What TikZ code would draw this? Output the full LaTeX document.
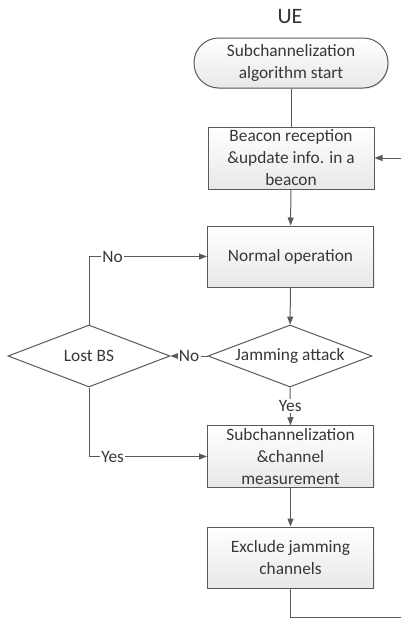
\documentclass[tikz,border=0pt]{standalone}
\usepackage{fontspec}
\setmainfont{Carlito}
\usetikzlibrary{arrows.meta,shapes.geometric,shadows}
\definecolor{edge}{RGB}{90,90,90}
\definecolor{ink}{RGB}{55,55,55}
\definecolor{shade}{RGB}{232,232,232}
\tikzset{
  box/.style={draw=edge,line width=0.75pt,align=center,inner sep=2pt,text=ink,
    font=\fontsize{13}{16.5}\selectfont,top color=white,bottom color=shade,
    drop shadow={opacity=0.15,shadow xshift=0.8pt,shadow yshift=-0.8pt}},
  procbox/.style={box,minimum width=124.5pt,minimum height=46.5pt},
  startbox/.style={box,rounded corners=18.5pt,minimum width=145.5pt,minimum height=37.5pt},
  decbox/.style={diamond,aspect=2.65,draw=edge,line width=0.75pt,fill=white,inner sep=0pt,text=ink,
    font=\fontsize{13}{16.5}\selectfont,minimum width=123pt,minimum height=46.5pt},
  flow/.style={-{Triangle[length=6pt,width=4.5pt]},line width=0.75pt,draw=edge},
  plain/.style={line width=0.75pt,draw=edge},
  lab/.style={font=\fontsize{13}{16.5}\selectfont,text=ink,inner sep=1pt,fill=white},
}
\begin{document}
\begin{tikzpicture}[x=0.75pt,y=-0.75pt]
\useasboundingbox (0,0) rectangle (401,621);
\clip (0,0) rectangle (401,621);
% title
\node[font=\fontsize{16.5}{20}\selectfont,text=black!80] (ue) at (290,17) {UE};
% steps
\node[startbox] (start) at (291,63) {Subchannelization\\algorithm start};
\node[procbox] (beacon) at (291,158) {Beacon reception\\\&update info. in a\\beacon};
\node[procbox,minimum height=45.75pt] (normal) at (290.5,256.5) {Normal operation};
\node[decbox] (jam) at (290,356) {Jamming attack};
\node[decbox,minimum width=121.5pt] (lost) at (89,356) {Lost BS};
\node[procbox,minimum height=45.75pt] (subch) at (290.5,456.5) {Subchannelization\\\&channel\\measurement};
\node[procbox,minimum height=45.75pt] (excl) at (290.5,557.5) {Exclude jamming\\channels};
% connectors
\draw[plain] (start) -- (beacon);
\draw[flow] (beacon) -- (normal);
\draw[flow] (normal) -- (jam);
\draw[flow] (jam.west) -- node[lab]{No} (lost.east);
\draw[flow] (lost.north) |- node[lab,pos=0.6]{No} (normal.west);
\draw[flow] (jam.south) -- node[lab]{Yes} (subch.north);
\draw[flow] (lost.south) |- node[lab,pos=0.6]{Yes} (subch.west);
\draw[flow] (subch) -- (excl);
\coordinate (loop) at (415,617);
\draw[flow] (excl.south) |- (loop) |- (beacon.east);
\end{tikzpicture}
\end{document}
